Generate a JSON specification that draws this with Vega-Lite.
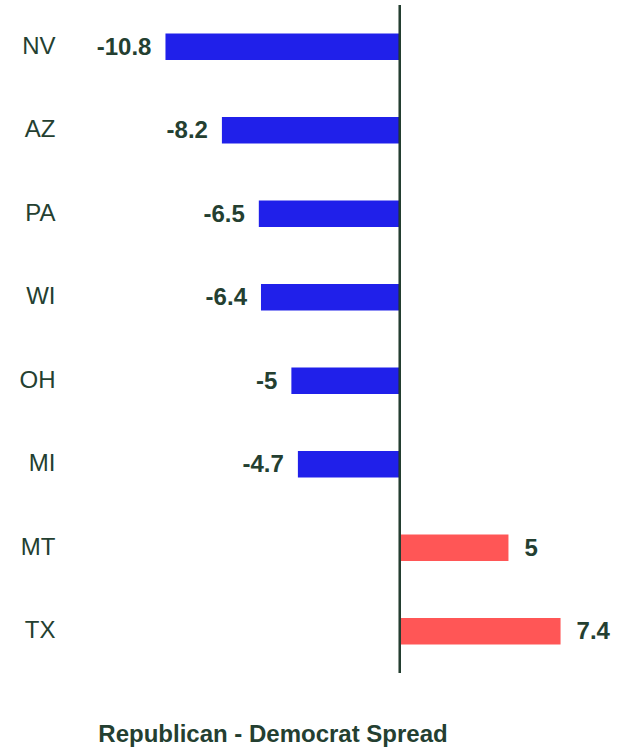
{
  "$schema": "https://vega.github.io/schema/vega-lite/v6.json",
  "autosize": "none",
  "width": 521,
  "height": 668,
  "padding": {"left": 96, "top": 5, "right": 10, "bottom": 75},
  "background": "white",
  "config": {"view": {"stroke": null}, "font": "Liberation Sans"},
  "data": {"values": [
    {"state": "NV", "spread": -10.8, "leader": "D"},
    {"state": "AZ", "spread": -8.2, "leader": "D"},
    {"state": "PA", "spread": -6.5, "leader": "D"},
    {"state": "WI", "spread": -6.4, "leader": "D"},
    {"state": "OH", "spread": -5, "leader": "D"},
    {"state": "MI", "spread": -4.7, "leader": "D"},
    {"state": "MT", "spread": 5, "leader": "R"},
    {"state": "TX", "spread": 7.4, "leader": "R"}
  ]},
  "encoding": {
    "y": {"field": "state", "type": "nominal", "sort": null,
      "scale": {"paddingInner": 0.68, "paddingOuter": 0.34},
      "axis": {"title": null, "ticks": false, "domain": false, "labelFontSize": 24, "labelColor": "#243f31", "labelPadding": 41, "labelFont": "Liberation Sans"}}
  },
  "layer": [
    {
      "mark": {"type": "bar"},
      "encoding": {
        "x": {"field": "spread", "type": "quantitative", "scale": {"domain": [-14, 10], "nice": false, "zero": false},
          "axis": {"title": "Republican - Democrat Spread", "labels": false, "ticks": false, "domain": false, "grid": false,
            "titleFontSize": 24, "titleFontWeight": "bold", "titleColor": "#243f31", "titleFont": "Liberation Sans",
            "titleX": 176.5, "titleY": 68, "titleAlign": "center", "titleBaseline": "alphabetic"}},
        "color": {"field": "leader", "type": "nominal", "scale": {"domain": ["D", "R"], "range": ["#2020EA", "#FF5656"]}, "legend": null}
      }
    },
    {
      "mark": {"type": "rule", "color": "#243f31", "strokeWidth": 2},
      "encoding": {"x": {"datum": 0, "type": "quantitative"}, "y": null}
    },
    {
      "transform": [{"filter": "datum.spread < 0"}],
      "mark": {"type": "text", "align": "right", "baseline": "middle", "dx": -14, "dy": 1, "fontSize": 24, "fontWeight": "bold", "color": "#243f31"},
      "encoding": {
        "x": {"field": "spread", "type": "quantitative"},
        "text": {"field": "spread", "type": "nominal"}
      }
    },
    {
      "transform": [{"filter": "datum.spread >= 0"}],
      "mark": {"type": "text", "align": "left", "baseline": "middle", "dx": 16, "dy": 1, "fontSize": 24, "fontWeight": "bold", "color": "#243f31"},
      "encoding": {
        "x": {"field": "spread", "type": "quantitative"},
        "text": {"field": "spread", "type": "nominal"}
      }
    }
  ]
}
